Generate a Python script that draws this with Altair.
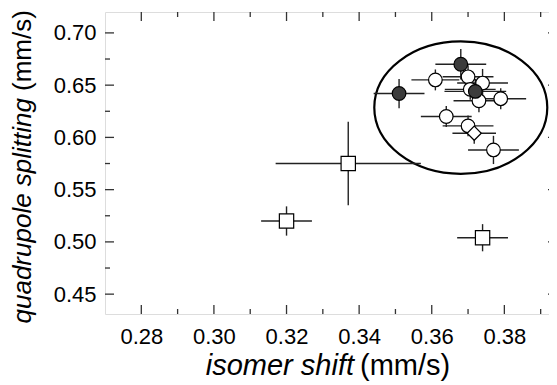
import altair as alt
import pandas as pd

# ---- data ----
iso_shift = [0.351, 0.368, 0.372,
             0.361, 0.370, 0.374, 0.3706, 0.373, 0.379, 0.364, 0.370, 0.377,
             0.3717,
             0.337, 0.320, 0.374]
quad_split = [0.642, 0.670, 0.644,
              0.655, 0.658, 0.652, 0.646, 0.635, 0.637, 0.620, 0.611, 0.588,
              0.604,
              0.575, 0.520, 0.504]
iso_err = [0.007, 0.007, 0.0085,
           0.0066, 0.007, 0.007, 0.007, 0.007, 0.007, 0.007, 0.007, 0.007,
           0.006,
           0.020, 0.007, 0.007]
quad_err = [0.014, 0.0145, 0.012,
            0.010, 0.011, 0.0135, 0.010, 0.011, 0.010, 0.010, 0.010, 0.0135,
            0.010,
            0.040, 0.014, 0.013]
kind = ["filled", "filled", "filled",
        "open", "open", "open", "open", "open", "open", "open", "open", "open",
        "diamond",
        "square", "square", "square"]

x_major = [0.28, 0.30, 0.32, 0.34, 0.36, 0.38]
x_minor = [0.29, 0.31, 0.33, 0.35, 0.37, 0.39]
y_major = [0.45, 0.50, 0.55, 0.60, 0.65, 0.70]
y_minor = [0.475, 0.525, 0.575, 0.625, 0.675]

ellipse_center = {"x": [0.3680], "y": [0.6285]}

x_dom = [0.27, 0.3945]
y_dom = [0.431, 0.72]
W, H = 452, 302
FONT = "Liberation Sans"

df = pd.DataFrame({"x": iso_shift, "y": quad_split, "ex": iso_err,
                   "ey": quad_err, "kind": kind})
df["x_lo"] = df["x"] - df["ex"]
df["x_hi"] = df["x"] + df["ex"]
df["y_lo"] = df["y"] - df["ey"]
df["y_hi"] = df["y"] + df["ey"]

xs = alt.Scale(domain=x_dom, nice=False, zero=False)
ys = alt.Scale(domain=y_dom, nice=False, zero=False)

base = alt.Chart(df)

axis_x = alt.Axis(values=x_major, format=".2f", tickSize=0, domain=False,
                  grid=False, labelFont=FONT, labelFontSize=22,
                  labelColor="black", labelPadding=12, title=None)
axis_y = alt.Axis(values=y_major, format=".2f", tickSize=0, domain=False,
                  grid=False, labelFont=FONT, labelFontSize=22,
                  labelColor="black", labelPadding=9, title=None)

# ellipse (single symbol at the cluster centre)
k = 0.765
c = 0.5523
ell_path = (f"M 1 0 C 1 {k*c:.4f} {c} {k} 0 {k} "
            f"C {-c} {k} -1 {k*c:.4f} -1 0 "
            f"C -1 {-k*c:.4f} {-c} {-k} 0 {-k} "
            f"C {c} {-k} 1 {-k*c:.4f} 1 0 Z")
ellipse = alt.Chart(pd.DataFrame(ellipse_center)).mark_point(
    shape=ell_path, size=(2 * 86.5) ** 2, filled=False, stroke="black",
    strokeWidth=2.2, opacity=1
).encode(x=alt.X("x:Q", scale=xs, axis=axis_x),
         y=alt.Y("y:Q", scale=ys, axis=axis_y))

xerr = base.mark_rule(color="#222", strokeWidth=1.4).encode(
    x=alt.X("x_lo:Q", scale=xs), x2="x_hi:Q", y=alt.Y("y:Q", scale=ys))
yerr = base.mark_rule(color="#222", strokeWidth=1.4).encode(
    y=alt.Y("y_lo:Q", scale=ys), y2="y_hi:Q", x=alt.X("x:Q", scale=xs))

def pts(k_, shape, fill, size):
    return base.transform_filter(alt.datum.kind == k_).mark_point(
        shape=shape, filled=True, fill=fill, stroke="black", strokeWidth=1.2,
        size=size, opacity=1
    ).encode(x=alt.X("x:Q", scale=xs), y=alt.Y("y:Q", scale=ys))

open_c = pts("open", "circle", "white", 185)
diam = pts("diamond", "diamond", "white", 200)
filled_c = pts("filled", "circle", "#3c3c3c", 185)
squares = pts("square", "square", "white", 205)

# inward ticks on all four sides
def tick_df(vals):
    return pd.DataFrame({"v": vals})

tick_color = "#333"
xt_major = alt.Chart(tick_df(x_major))
xt_minor = alt.Chart(tick_df(x_minor))
yt_major = alt.Chart(tick_df(y_major))
yt_minor = alt.Chart(tick_df(y_minor))

ticks = []
for ch, L in [(xt_major, 9), (xt_minor, 5)]:
    ticks.append(ch.mark_rule(color=tick_color, strokeWidth=1.3).encode(
        x=alt.X("v:Q", scale=xs), y=alt.value(H), y2=alt.value(H - L)))
    ticks.append(ch.mark_rule(color=tick_color, strokeWidth=1.3).encode(
        x=alt.X("v:Q", scale=xs), y=alt.value(0), y2=alt.value(L)))
for ch, L in [(yt_major, 9), (yt_minor, 5)]:
    ticks.append(ch.mark_rule(color=tick_color, strokeWidth=1.3).encode(
        y=alt.Y("v:Q", scale=ys), x=alt.value(0), x2=alt.value(L)))
    ticks.append(ch.mark_rule(color=tick_color, strokeWidth=1.3).encode(
        y=alt.Y("v:Q", scale=ys), x=alt.value(W), x2=alt.value(W - L)))

# axis titles (italic + normal parts)
tx1 = alt.Chart(pd.DataFrame({"t": ["isomer shift"]})).mark_text(
    font=FONT, fontSize=29, fontStyle="italic", align="right",
    baseline="alphabetic", color="black").encode(
    text="t:N", x=alt.value(249), y=alt.value(363))
tx2 = alt.Chart(pd.DataFrame({"t": ["(mm/s)"]})).mark_text(
    font=FONT, fontSize=29, align="left", baseline="alphabetic",
    color="black").encode(text="t:N", x=alt.value(255), y=alt.value(363))
ty1 = alt.Chart(pd.DataFrame({"t": ["quadrupole splitting"]})).mark_text(
    font=FONT, fontSize=26, fontStyle="italic", align="right",
    baseline="alphabetic", angle=270, color="black").encode(
    text="t:N", x=alt.value(-74), y=alt.value(86))
ty2 = alt.Chart(pd.DataFrame({"t": ["(mm/s)"]})).mark_text(
    font=FONT, fontSize=26, align="left", baseline="alphabetic", angle=270,
    color="black").encode(text="t:N", x=alt.value(-74), y=alt.value(79))

chart = alt.layer(
    ellipse, xerr, yerr, squares, open_c, diam, filled_c, *ticks,
    tx1, tx2, ty1, ty2
).properties(
    width=W, height=H,
    autosize=alt.AutoSizeParams(type="none"),
    padding={"left": 97, "top": 4, "right": -8, "bottom": 71},
).configure_view(stroke="#333", strokeWidth=1.5).configure(background="white")

chart.save("out.html", embed_options={"renderer": "svg", "actions": False})
